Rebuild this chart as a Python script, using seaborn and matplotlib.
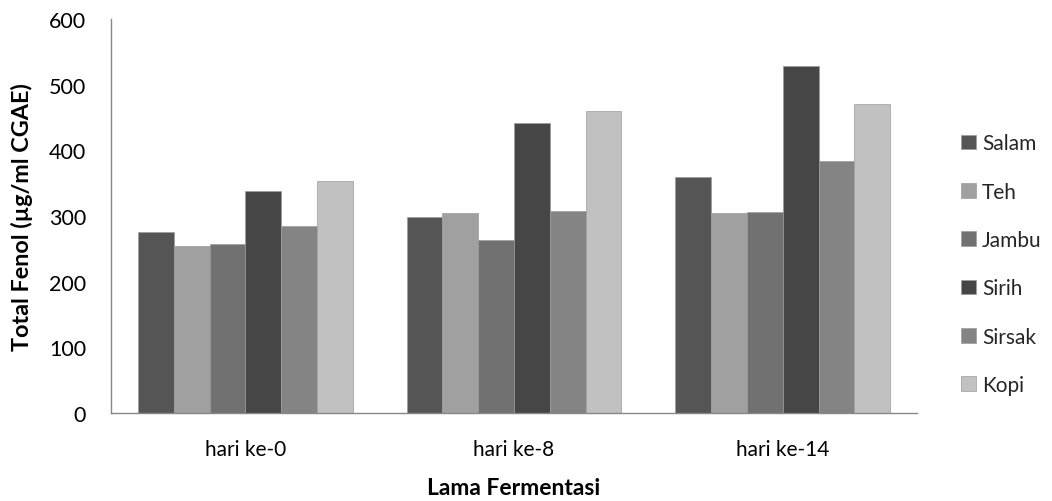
import matplotlib
matplotlib.use("Agg")
import matplotlib.pyplot as plt
import seaborn as sns
import pandas as pd

# Fermentation stages and leaf/tea sources
stages = ["hari ke-0", "hari ke-8", "hari ke-14"]
sources = ["Salam", "Teh", "Jambu", "Sirih", "Sirsak", "Kopi"]

# Total phenol (µg/ml CGAE) per source, one value per stage
salam = [276, 298, 359]
teh = [255, 304, 305]
jambu = [258, 263, 306]
sirih = [338, 442, 528]
sirsak = [285, 307, 383]
kopi = [353, 460, 471]

colors = ["#555555", "#a0a0a0", "#717171", "#464646", "#848484", "#c1c1c1"]

series = [salam, teh, jambu, sirih, sirsak, kopi]
df = pd.DataFrame(
    [(st, src, vals[i]) for src, vals in zip(sources, series) for i, st in enumerate(stages)],
    columns=["stage", "source", "fenol"],
)

sns.set_style("white")
plt.rcParams["font.family"] = ["Lato", "DejaVu Sans"]

fig = plt.figure(figsize=(10.52, 5.02), dpi=100)
ax = fig.add_axes([0.1055, 0.1753, 0.7662, 0.7849])

sns.barplot(
    data=df, x="stage", y="fenol", hue="source",
    order=stages, hue_order=sources, palette=colors,
    width=0.8, gap=0, saturation=1, errorbar=None,
    edgecolor="#9c9c9c", linewidth=0.5, ax=ax,
)

ax.set_ylim(0, 600)
ax.set_yticks(range(0, 601, 100))
ax.set_xlim(-0.5, 2.5)

# Category boundaries get the tick marks, labels sit at the centres
ax.set_xticks([-0.5, 0.5, 1.5, 2.5], minor=True)
ax.tick_params(axis="x", which="minor", length=7, width=1, color="#878787", direction="out")
ax.tick_params(axis="x", which="major", length=0, labelsize=15, pad=19)
ax.tick_params(axis="y", length=6, width=1, color="#878787", direction="out",
               labelsize=15.5, pad=12)
for lbl in ax.get_xticklabels() + ax.get_yticklabels():
    lbl.set_color("black")

for side in ["top", "right"]:
    ax.spines[side].set_visible(False)
for side in ["left", "bottom"]:
    ax.spines[side].set_color("#878787")
    ax.spines[side].set_linewidth(1)

ax.set_xlabel("Lama Fermentasi", fontsize=16.5, fontweight="bold", color="black")
ax.xaxis.set_label_coords(0.5, -0.163)
ax.set_ylabel("Total Fenol (µg/ml CGAE)", fontsize=16.8, fontweight="bold", color="black")
ax.yaxis.set_label_coords(-0.097, 0.5)

handles, labels = ax.get_legend_handles_labels()
ax.legend(
    handles, labels, loc="center left", bbox_to_anchor=(0.9055, 0.472),
    bbox_transform=fig.transFigure, frameon=False, fontsize=15,
    handlelength=0.72, handleheight=0.72, handletextpad=0.3,
    labelspacing=1.36, borderaxespad=0,
)

fig.savefig("out.png", dpi=100)
